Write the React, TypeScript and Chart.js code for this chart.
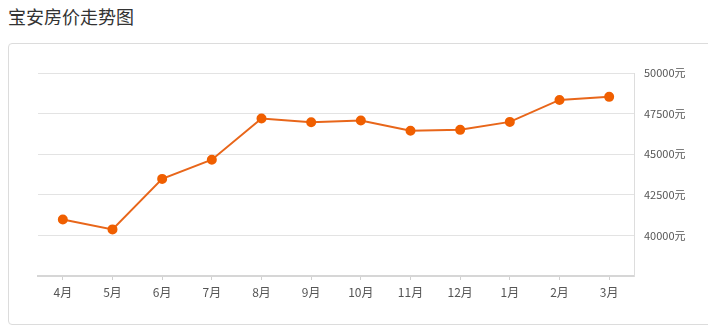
import React, { useEffect, useRef } from "react";
import { Chart, registerables } from "chart.js";

Chart.register(...registerables);

const title = "宝安房价走势图";
const months = ["4月", "5月", "6月", "7月", "8月", "9月", "10月", "11月", "12月", "1月", "2月", "3月"];
const prices = [40980, 40370, 43480, 44660, 47200, 46970, 47070, 46440, 46500, 46990, 48340, 48530];
const yMin = 37500;
const yMax = 50000;
const yStep = 2500;
const unit = "元";

const FONT = "'Noto Sans CJK SC', 'Noto Sans', sans-serif";

export default function App() {
  const ref = useRef<HTMLCanvasElement | null>(null);
  useEffect(() => {
    if (!ref.current) return;
    const chart = new Chart(ref.current, {
      type: "line",
      data: {
        labels: months,
        datasets: [
          {
            data: prices,
            borderColor: "#e8661a",
            backgroundColor: "#f05f00",
            pointBackgroundColor: "#f05f00",
            pointBorderColor: "#f05f00",
            borderWidth: 2,
            pointRadius: 4,
            tension: 0,
          },
        ],
      },
      options: {
        animation: false,
        responsive: false,
        maintainAspectRatio: false,
        layout: { padding: { left: 38, top: 73, right: 0, bottom: 0 } },
        plugins: { legend: { display: false }, tooltip: { enabled: false } },
        scales: {
          x: {
            offset: true,
            afterFit: (s: any) => { s.height = 57; },
            grid: { display: true, drawOnChartArea: false, drawTicks: true, tickLength: 4, color: "#d0d0d0" },
            border: { display: true, color: "#d6d6d6", width: 2 },
            ticks: { color: "#555", font: { family: FONT, size: 12 }, padding: 5 },
          },
          y: {
            position: "right",
            min: yMin,
            max: yMax,
            afterFit: (s: any) => { s.width = 74; },
            grid: { color: "#e3e3e3", drawTicks: false },
            border: { display: true, color: "#dddddd", width: 1 },
            ticks: {
              stepSize: yStep,
              padding: 10,
              color: "#555",
              font: { family: FONT, size: 11 },
              callback: (v: any) => (v === yMin ? "" : `${v}${unit}`),
            },
          },
        },
      },
    });
    return () => chart.destroy();
  }, []);

  return (
    <div style={{ position: "absolute", left: 0, top: 0, width: 708, height: 333, overflow: "hidden", background: "#fff" }}>
      <div
        style={{
          position: "absolute",
          left: 8,
          top: 3,
          fontFamily: FONT,
          fontSize: 18,
          color: "#333",
          lineHeight: "26px",
        }}
      >
        {title}
      </div>
      <div
        style={{
          position: "absolute",
          left: 8,
          top: 43,
          width: 710,
          height: 280,
          border: "1px solid #dcdcdc",
          borderRadius: 4,
        }}
      />
      <canvas ref={ref} width={708} height={333} style={{ position: "absolute", left: 0, top: 0 }} />
    </div>
  );
}
